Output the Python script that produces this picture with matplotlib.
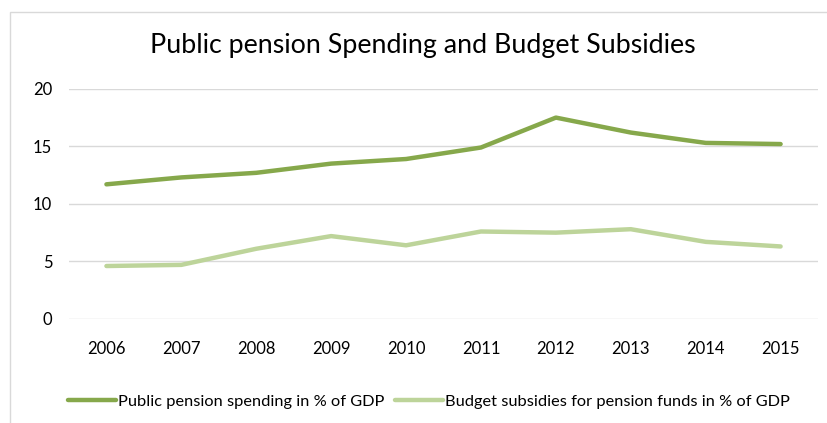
import matplotlib
matplotlib.use("Agg")
import matplotlib.pyplot as plt
from matplotlib.patches import Rectangle

plt.rcParams['font.family'] = ['Lato', 'DejaVu Sans']

# data
years = ["2006", "2007", "2008", "2009", "2010", "2011", "2012", "2013", "2014", "2015"]
pension_spending = [11.7, 12.3, 12.7, 13.5, 13.9, 14.9, 17.5, 16.2, 15.3, 15.2]
budget_subsidies = [4.6, 4.7, 6.1, 7.2, 6.4, 7.6, 7.5, 7.8, 6.7, 6.3]

dark_green = "#86A84B"
light_green = "#BDD49A"

fig = plt.figure(figsize=(8.28, 4.23), dpi=100)
ax = fig.add_axes([0.0833, 0.246, 0.9047, 0.544])

x = range(len(years))
ax.plot(x, pension_spending, color=dark_green, lw=3.2, solid_capstyle="round",
        solid_joinstyle="round", label="Public pension spending in % of GDP")
ax.plot(x, budget_subsidies, color=light_green, lw=3.2, solid_capstyle="round",
        solid_joinstyle="round", label="Budget subsidies for pension funds in % of GDP")

ax.set_xlim(-0.5, len(years) - 0.5)
ax.set_ylim(0, 20)
ax.set_yticks([0, 5, 10, 15, 20])
ax.set_xticks(list(x))
ax.set_xticklabels(years)
ax.grid(axis="y", color="#D9D9D9", lw=1)
ax.set_axisbelow(True)
for s in ax.spines.values():
    s.set_visible(False)
ax.tick_params(length=0, labelsize=12, colors="#000000")
ax.tick_params(axis="x", pad=16)
ax.tick_params(axis="y", pad=12)

fig.text(0.511, 0.893, "Public pension Spending and Budget Subsidies",
         ha="center", va="center", fontsize=19.3, color="#000000")

fig.legend(loc="center", bbox_to_anchor=(0.518, 0.050), ncol=2, frameon=False,
           fontsize=11.8, handlelength=2.9, handletextpad=0.1, columnspacing=0.7)

# chart frame, cut off at the right and bottom
frame = Rectangle((10 / 828, -0.1), 1.2, 1 - 12 / 423 + 0.1, transform=fig.transFigure,
                  fill=False, edgecolor="#D9D9D9", lw=1)
fig.patches.append(frame)

fig.savefig("out.png", dpi=100)
